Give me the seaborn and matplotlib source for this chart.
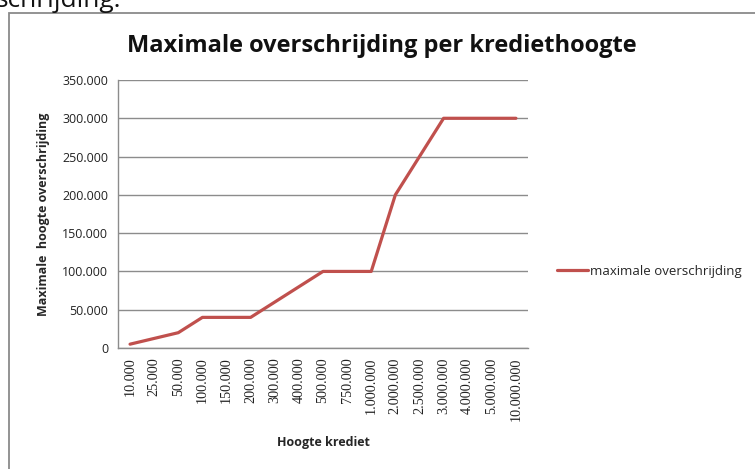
import matplotlib
matplotlib.use("Agg")
import matplotlib.pyplot as plt
import seaborn as sns
import pandas as pd
from matplotlib.patches import Rectangle

categories = ["10.000", "25.000", "50.000", "100.000", "150.000", "200.000",
              "300.000", "400.000", "500.000", "750.000", "1.000.000",
              "2.000.000", "2.500.000", "3.000.000", "4.000.000", "5.000.000",
              "10.000.000"]
values = [5000, 12500, 20000, 40000, 40000, 40000, 60000, 80000, 100000,
          100000, 100000, 200000, 250000, 300000, 300000, 300000, 300000]
y_ticks = [0, 50000, 100000, 150000, 200000, 250000, 300000, 350000]
y_tick_labels = ["0", "50.000", "100.000", "150.000", "200.000", "250.000",
                 "300.000", "350.000"]
series_name = "maximale overschrijding"

sns.set_style("white")
plt.rcParams['font.family'] = ['Open Sans', 'DejaVu Sans']

W, H = 755, 469
fig = plt.figure(figsize=(W / 100, H / 100), dpi=100)
ax = fig.add_axes([118 / W, 1 - 348 / H, (528 - 118) / W, (348 - 80) / H])

df = pd.DataFrame({"krediet": categories, "overschrijding": values,
                   "serie": series_name})
sns.lineplot(data=df, x="krediet", y="overschrijding", hue="serie",
             palette=["#C0504D"], sort=False, linewidth=2.3, ax=ax)

ax.set_xlim(-0.5, len(categories) - 0.5)
ax.set_ylim(0, 350000)
ax.set_yticks(y_ticks)
ax.set_yticklabels(y_tick_labels, fontsize=9, color="#222222")
ax.set_xticks(range(len(categories)))
ax.set_xticklabels(categories, rotation=90, fontsize=10.3, color="#222222",
                   family=["Liberation Serif", "DejaVu Serif"])
ax.tick_params(axis="both", length=0, pad=7)
ax.grid(axis="y", color="#8c8c8c", linewidth=1.0)
ax.set_axisbelow(True)
for s in ["top", "right"]:
    ax.spines[s].set_visible(False)
for s in ["left", "bottom"]:
    ax.spines[s].set_color("#8c8c8c")
    ax.spines[s].set_linewidth(1.0)

ax.set_xlabel("Hoogte krediet", fontsize=9, fontweight="bold", labelpad=11)
ax.set_ylabel("Maximale  hoogte overschrijding", fontsize=9,
              fontweight="bold", labelpad=9)

ax.legend(loc="center left", bbox_to_anchor=(552 / W, 1 - 271 / H),
          bbox_transform=fig.transFigure, frameon=False, fontsize=9.5,
          handlelength=2.3, handletextpad=0.15, borderaxespad=0)

fig.text(382 / W, 1 - 46 / H, "Maximale overschrijding per krediethoogte",
         ha="center", va="center", fontsize=17, fontweight="bold",
         color="#111111")

fig.text(-0.006, 1 - 7 / H, "schrijding:", ha="left", va="baseline",
         fontsize=19, color="#111111")

fig.patches.append(Rectangle((9 / W, -0.1), 1.2, 1 - 13.5 / H + 0.1,
                             transform=fig.transFigure, fill=False,
                             edgecolor="#8a8a8a", linewidth=1.3))

fig.savefig("out.png", dpi=100)
